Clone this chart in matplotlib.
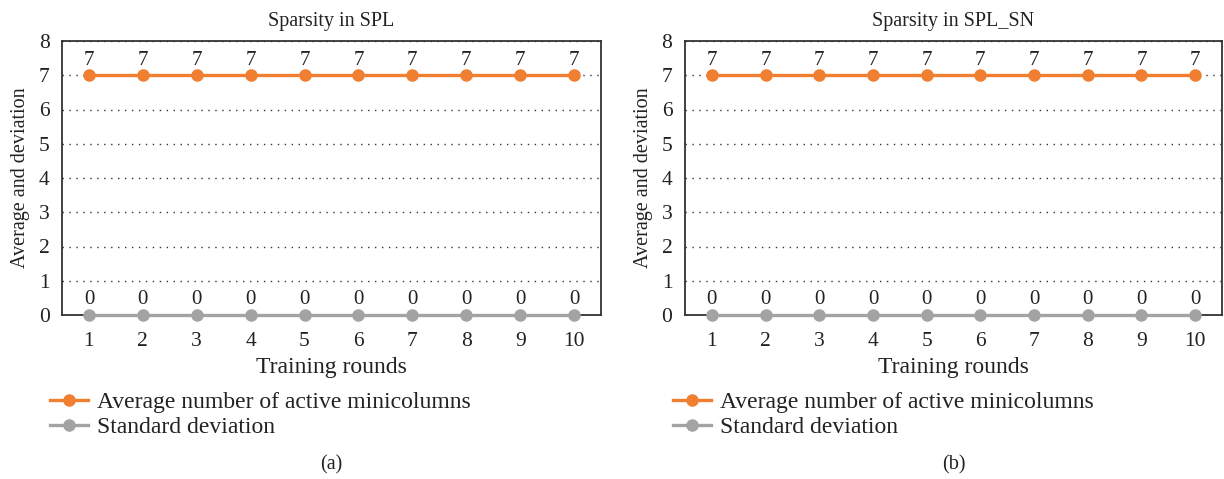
import matplotlib.pyplot as plt

rounds = [1, 2, 3, 4, 5, 6, 7, 8, 9, 10]
spl_avg = [7, 7, 7, 7, 7, 7, 7, 7, 7, 7]
spl_std = [0, 0, 0, 0, 0, 0, 0, 0, 0, 0]
spl_sn_avg = [7, 7, 7, 7, 7, 7, 7, 7, 7, 7]
spl_sn_std = [0, 0, 0, 0, 0, 0, 0, 0, 0, 0]

titles = ["Sparsity in SPL", "Sparsity in SPL_SN"]
captions = ["(a)", "(b)"]

ORANGE = "#F07F32"
GRAY = "#A3A3A3"
TXT = "#222222"

plt.rcParams["font.family"] = ["Liberation Serif", "DejaVu Serif"]


def draw_panel(fig, rect, avg, std, title, caption):
    ax = fig.add_axes(rect)
    l1, = ax.plot(rounds, avg, color=ORANGE, lw=2.4, marker="o", ms=8, zorder=3)
    l2, = ax.plot(rounds, std, color=GRAY, lw=2.4, marker="o", ms=8, zorder=3, clip_on=False)
    for x, v in zip(rounds, avg):
        ax.annotate(f"{v:d}", (x, v), xytext=(0, 4), textcoords="offset points",
                    ha="center", va="bottom", fontsize=15, color=TXT)
    for x, v in zip(rounds, std):
        ax.annotate(f"{v:d}", (x, v), xytext=(0, 4), textcoords="offset points",
                    ha="center", va="bottom", fontsize=15, color=TXT)

    ax.set_xlim(0.5, 10.5)
    ax.set_ylim(0, 8)
    ax.set_xticks(rounds)
    ax.set_yticks(range(0, 9))
    ax.tick_params(length=0, labelsize=15.5, colors=TXT)
    ax.tick_params(axis="x", pad=12.5)
    ax.tick_params(axis="y", pad=9)
    ax.yaxis.grid(True, linestyle=(0, (1, 4)), color="#333333", lw=1.0)
    ax.set_axisbelow(True)
    for s in ax.spines.values():
        s.set_color("#333333")
        s.set_linewidth(1.3)

    ax.set_title(title, fontsize=14.5, pad=11, color=TXT)
    ax.set_xlabel("Training rounds", fontsize=17, labelpad=4, color=TXT)
    ax.set_ylabel("Average and deviation", fontsize=14.5, labelpad=6, color=TXT)

    leg = ax.legend([l1, l2], ["Average number of active minicolumns", "Standard deviation"],
                    loc="upper left", bbox_to_anchor=(-0.04, -0.245), frameon=False,
                    fontsize=17, handlelength=1.6, handletextpad=0.4, labelspacing=0.15,
                    borderaxespad=0)
    for t in leg.get_texts():
        t.set_color(TXT)

    fig.text(rect[0] + rect[2] * 0.5, 1 - 465 / 479, caption, ha="center", va="center",
             fontsize=14.5, color=TXT)
    return ax


fig = plt.figure(figsize=(12.24, 4.79), dpi=100)
draw_panel(fig, [62 / 1224, 1 - 315 / 479, 539 / 1224, 274 / 479],
           spl_avg, spl_std, titles[0], captions[0])
draw_panel(fig, [685 / 1224, 1 - 315 / 479, 537 / 1224, 274 / 479],
           spl_sn_avg, spl_sn_std, titles[1], captions[1])

fig.savefig("out.png", dpi=100, facecolor="white")
